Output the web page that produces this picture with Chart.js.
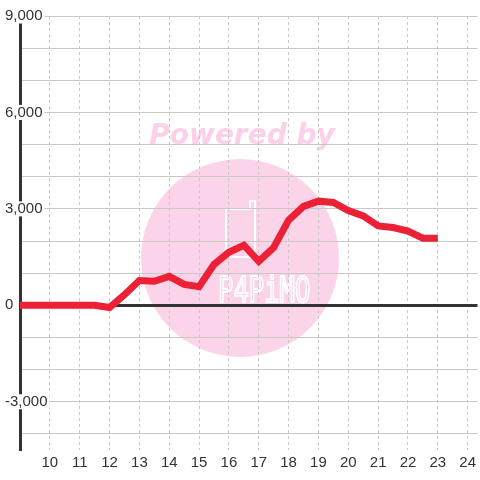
<!DOCTYPE html>
<html>
<head>
<meta charset="utf-8">
<script src="https://cdn.jsdelivr.net/npm/chart.js@4/dist/chart.umd.min.js"></script>
<style>
  body { margin: 0; background: #fff; }
  canvas { display: block; }
</style>
</head>
<body>
<canvas id="myChart" width="480" height="480"></canvas>
<script>
// data (hour of day -> value)
const hours = [9, 9.5, 10, 10.5, 11, 11.5, 12, 12.5, 13, 13.5, 14, 14.5, 15, 15.5, 16,
  16.5, 17, 17.5, 18, 18.5, 19, 19.5, 20, 20.5, 21, 21.5, 22, 22.5, 23];
const values = [0, 0, 0, 0, 0, 0, -70, 330, 770, 750, 900, 650, 580, 1270, 1650,
  1870, 1370, 1800, 2650, 3080, 3240, 3200, 2950, 2780, 2470, 2420, 2310, 2090, 2090];

const xTicks = [10, 11, 12, 13, 14, 15, 16, 17, 18, 19, 20, 21, 22, 23, 24];
const yGrid = [-4000, -3000, -2000, -1000, 0, 1000, 2000, 3000, 4000, 5000, 6000, 7000, 8000, 9000];
const yLabels = [-3000, 0, 3000, 6000, 9000];

// watermark behind everything
const watermark = {
  id: 'watermark',
  beforeDraw(chart) {
    const c = chart.ctx;
    c.save();
    c.fillStyle = 'rgb(252,212,234)';
    c.beginPath();
    c.arc(240, 258, 99, 0, Math.PI * 2);
    c.fill();

    c.fillStyle = 'rgb(252,208,232)';
    c.font = 'italic bold 28px "DejaVu Sans"';
    c.textAlign = 'center';
    c.textBaseline = 'alphabetic';
    c.fillText('Powered by', 242, 144);

    // logo outline
    c.strokeStyle = '#fff';
    c.lineWidth = 2;
    c.beginPath();
    c.moveTo(226, 209);
    c.lineTo(226, 257);
    c.lineTo(255, 257);
    c.lineTo(255, 201);
    c.lineTo(250, 201);
    c.lineTo(250, 209);
    c.closePath();
    c.stroke();
    c.translate(218, 302);
    c.scale(0.71, 1);
    c.font = '36px "DejaVu Sans Mono"';
    c.textAlign = 'left';
    c.lineWidth = 2;
    c.strokeText('P4PiMO', 0, 0);
    c.restore();
  }
};

function renderChart() {
  const ctx = document.querySelector('#myChart').getContext('2d');
  new Chart(ctx, {
    type: 'line',
    data: {
      datasets: [
        {
          data: hours.map((h, i) => ({ x: h, y: values[i] })),
          borderColor: '#ec2136',
          borderWidth: 7,
          pointRadius: 0,
          tension: 0,
          fill: false
        }
      ]
    },
    options: {
      responsive: false,
      animation: false,
      devicePixelRatio: 1,
      layout: { padding: { top: 16, left: 20, right: 0, bottom: 4 } },
      plugins: { legend: { display: false }, tooltip: { enabled: false } },
      scales: {
        x: {
          type: 'linear',
          min: 9,
          max: 24.33,
          afterBuildTicks: s => { s.ticks = xTicks.map(v => ({ value: v })); },
          border: { display: false, dash: [3, 3] },
          grid: { color: '#c8c8c8', lineWidth: 1, drawTicks: false },
          ticks: {
            padding: 4,
            color: '#333',
            font: { family: '"Liberation Sans", Arial, sans-serif', size: 15, lineHeight: 1.2 },
            maxRotation: 0,
            autoSkip: false
          }
        },
        y: {
          min: -4500,
          max: 9000,
          afterBuildTicks: s => { s.ticks = yGrid.map(v => ({ value: v })); },
          afterFit: s => { s.width = 0; },
          border: { display: true, color: '#333', width: 3 },
          grid: {
            drawTicks: false,
            color: c => (c.tick && c.tick.value === 0 ? '#333' : '#c8c8c8'),
            lineWidth: c => (c.tick && c.tick.value === 0 ? 3 : 1)
          },
          ticks: {
            mirror: true,
            crossAlign: 'near',
            padding: -15,
            color: '#333',
            font: { family: '"Liberation Sans", Arial, sans-serif', size: 15, lineHeight: 1 },
            showLabelBackdrop: c => yLabels.includes(c.tick.value) && c.tick.value !== 0,
            backdropColor: '#fff',
            backdropPadding: { top: 0, bottom: 0, left: 2, right: 2 },
            callback: v => (yLabels.includes(v) ? v.toLocaleString('en-US') : '')
          }
        }
      }
    },
    plugins: [watermark]
  });
}

renderChart();
</script>
</body>
</html>
